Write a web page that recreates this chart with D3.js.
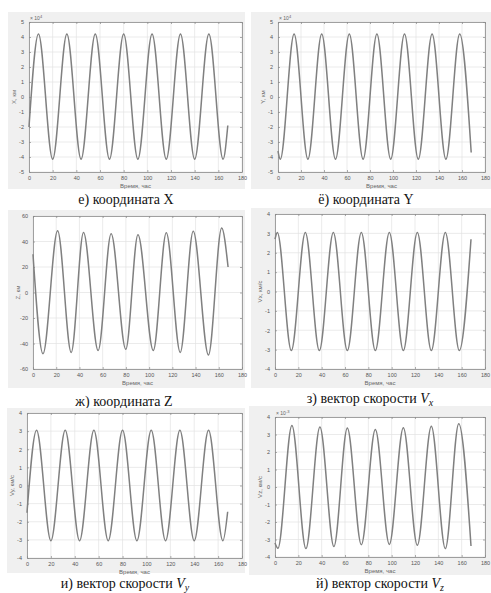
<!DOCTYPE html>
<html>
<head>
<meta charset="utf-8">
<script src="https://cdn.jsdelivr.net/npm/d3@7"></script>
<style>
  body { margin: 0; background: #fff; }
  svg { display: block; }
</style>
</head>
<body>
<svg id="chart" width="491" height="593"></svg>
<script>
// ticks shared by all panels
var timeTicks = [0, 20, 40, 60, 80, 100, 120, 140, 160, 180]
var coordTicks = [-5, -4, -3, -2, -1, 0, 1, 2, 3, 4, 5]
var zTicks = [-60, -40, -20, 0, 20, 40, 60]
var velTicks = [-4, -3, -2, -1, 0, 1, 2, 3, 4]

// extrema (time in hours, value in axis units)
var xTime = [0, 8, 20, 32, 44, 56, 68, 80, 92, 104, 116, 128, 140, 152, 164, 168]
var xVal = [-2.0, 4.2, -4.15, 4.2, -4.15, 4.2, -4.15, 4.2, -4.15, 4.2, -4.15, 4.2, -4.15, 4.2, -4.15, -1.9]

var yTime = [0, 2, 14, 26, 38, 50, 62, 74, 86, 98, 110, 122, 134, 146, 158, 168]
var yVal = [-3.6, -4.15, 4.2, -4.15, 4.2, -4.15, 4.2, -4.15, 4.2, -4.15, 4.2, -4.15, 4.2, -4.15, 4.2, -3.7]

var zTime = [0, 8.6, 21.2, 32.9, 43.5, 56.1, 67.3, 79.9, 90.4, 103.6, 114.8, 126.8, 138, 151.1, 162.5, 168]
var zVal = [30, -48, 48.5, -47, 47, -45.5, 46, -44.5, 45.3, -45.5, 46.8, -47, 48, -49, 50.5, 20]

var vxTime = [0, 2, 14, 26, 38, 50, 62, 74, 86, 98, 110, 122, 134, 146, 158, 168]
var vxVal = [2.7, 3.05, -3.05, 3.05, -3.05, 3.05, -3.05, 3.05, -3.05, 3.05, -3.05, 3.05, -3.05, 3.05, -3.05, 2.7]

var vyTime = [0, 8, 20, 32, 44, 56, 68, 80, 92, 104, 116, 128, 140, 152, 164, 168]
var vyVal = [-1.5, 3.05, -3.05, 3.05, -3.05, 3.05, -3.05, 3.05, -3.05, 3.05, -3.05, 3.05, -3.05, 3.05, -3.05, -1.45]

var vzTime = [0, 2.5, 14.5, 26.5, 38.5, 50.5, 62, 74, 86, 98, 110, 122, 134, 146, 157.5, 168]
var vzVal = [-3.2, -3.5, 3.52, -3.52, 3.43, -3.4, 3.37, -3.3, 3.28, -3.28, 3.39, -3.33, 3.47, -3.52, 3.62, -3.37]

// panel layout
var panels = [
  { time: xTime, vals: xVal, ticks: coordTicks, ylabel: 'X, км', exp: '4',
    box: [29, 22, 242, 172], bg: [8, 12, 245, 189],
    caption: ['е) координата X'], cap: [126, 204] },
  { time: yTime, vals: yVal, ticks: coordTicks, ylabel: 'Y, км', exp: '4',
    box: [278, 22, 485, 172], bg: [251, 12, 491, 189],
    caption: ['ё) координата Y'], cap: [366, 204] },
  { time: zTime, vals: zVal, ticks: zTicks, ylabel: 'Z, км', exp: null,
    box: [33, 216, 242, 369], bg: [8, 210, 245, 388],
    caption: ['ж) координата Z'], cap: [124, 406] },
  { time: vxTime, vals: vxVal, ticks: velTicks, ylabel: 'Vx, км/с', exp: null,
    box: [275, 214, 485, 369], bg: [251, 208, 491, 388],
    caption: ['з) вектор скорости ', 'V', 'x'], cap: [370, 403] },
  { time: vyTime, vals: vyVal, ticks: velTicks, ylabel: 'Vy, км/с', exp: null,
    box: [27, 413, 242, 558], bg: [7, 408, 245, 573],
    caption: ['и) вектор скорости ', 'V', 'y'], cap: [125, 588] },
  { time: vzTime, vals: vzVal, ticks: velTicks, ylabel: 'Vz, км/с', exp: '-3',
    box: [275, 417, 485, 557], bg: [249, 406, 491, 575],
    caption: ['й) вектор скорости ', 'V', 'z'], cap: [380, 588] }
]

var sans = "'Liberation Sans', Arial, sans-serif"
var serif = "'Liberation Serif', 'DejaVu Serif', serif"

var svg = d3.select('#chart')

panels.forEach(function (p) {
  var l = p.box[0], t = p.box[1], r = p.box[2], b = p.box[3]

  // grey figure background
  svg.append('rect')
    .attr('x', p.bg[0]).attr('y', p.bg[1])
    .attr('width', p.bg[2] - p.bg[0]).attr('height', p.bg[3] - p.bg[1])
    .attr('fill', '#f0f0f0')

  var x = d3.scaleLinear().domain([0, 180]).range([l, r])
  var y = d3.scaleLinear().domain(d3.extent(p.ticks)).range([b, t])

  var g = svg.append('g')

  g.append('rect')
    .attr('x', l).attr('y', t).attr('width', r - l).attr('height', b - t)
    .attr('fill', '#fff')

  // grid lines
  g.selectAll('.vgrid').data(timeTicks).enter().append('line')
    .attr('x1', d => x(d)).attr('x2', d => x(d))
    .attr('y1', t).attr('y2', b)
    .attr('stroke', '#e3e3e3').attr('stroke-width', 0.7)
  g.selectAll('.hgrid').data(p.ticks).enter().append('line')
    .attr('x1', l).attr('x2', r)
    .attr('y1', d => y(d)).attr('y2', d => y(d))
    .attr('stroke', '#e3e3e3').attr('stroke-width', 0.7)

  // axes, ticks pointing inward like matlab
  var axB = d3.axisBottom(x).tickValues(timeTicks).tickSizeInner(-2).tickSizeOuter(0).tickPadding(4)
    .tickFormat(d => String(d))
  var axL = d3.axisLeft(y).tickValues(p.ticks).tickSizeInner(-2).tickSizeOuter(0).tickPadding(5)
    .tickFormat(d => String(d))
  var axT = d3.axisTop(x).tickValues(timeTicks).tickSizeInner(-2).tickSizeOuter(0).tickFormat('')
  var axR = d3.axisRight(y).tickValues(p.ticks).tickSizeInner(-2).tickSizeOuter(0).tickFormat('')

  ;[[axB, 0, b], [axL, l, 0], [axT, 0, t], [axR, r, 0]].forEach(function (a) {
    var ag = g.append('g').attr('transform', 'translate(' + a[1] + ',' + a[2] + ')').call(a[0])
    ag.select('.domain').attr('stroke', '#8a8a8a').attr('stroke-width', 0.8)
    ag.selectAll('.tick line').attr('stroke', '#8a8a8a').attr('stroke-width', 0.7)
    ag.selectAll('.tick text')
      .attr('fill', '#555').style('font-family', sans).style('font-size', '5.5px')
  })

  // curve
  var line = d3.line()
    .x(d => x(d[0]))
    .y(d => y(d[1]))
    .curve(d3.curveMonotoneX)
  g.append('path')
    .datum(d3.zip(p.time, p.vals))
    .attr('d', line)
    .attr('fill', 'none')
    .attr('stroke', '#808080')
    .attr('stroke-width', 1.5)

  // labels
  g.append('text')
    .attr('x', (l + r) / 2).attr('y', b + 16)
    .attr('text-anchor', 'middle')
    .attr('fill', '#666')
    .style('font-family', sans).style('font-size', '6px')
    .text('Время, час')

  g.append('text')
    .attr('transform', 'translate(' + (l - 13) + ',' + ((t + b) / 2) + ') rotate(-90)')
    .attr('text-anchor', 'middle')
    .attr('fill', '#666')
    .style('font-family', sans).style('font-size', '6px')
    .text(p.ylabel)

  if (p.exp) {
    var e = g.append('text')
      .attr('x', l + 1).attr('y', t - 2)
      .attr('fill', '#666')
      .style('font-family', sans).style('font-size', '5px')
    e.append('tspan').text('× 10')
    e.append('tspan').attr('dy', -2.5).style('font-size', '4px').text(p.exp)
  }

  // caption under the figure
  var c = svg.append('text')
    .attr('x', p.cap[0]).attr('y', p.cap[1])
    .attr('text-anchor', 'middle')
    .attr('fill', '#111')
    .style('font-family', serif).style('font-size', '14px')
  c.append('tspan').text(p.caption[0])
  if (p.caption.length > 1) {
    c.append('tspan').style('font-style', 'italic').text(p.caption[1])
    c.append('tspan').style('font-style', 'italic').style('font-size', '10px').attr('dy', 2.5).text(p.caption[2])
  }
})
</script>
</body>
</html>
